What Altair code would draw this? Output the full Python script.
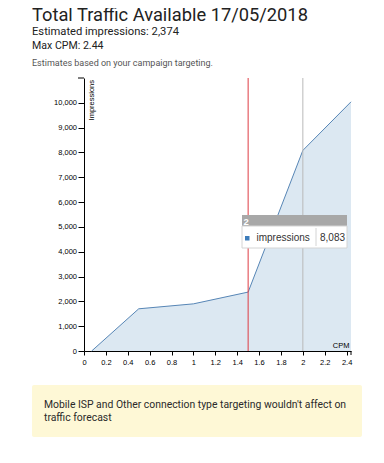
import altair as alt
import pandas as pd

# ---- data ----
cpm = [0.07, 0.5, 1.0, 1.5, 2.0, 2.44]
impressions = [0, 1700, 1900, 2374, 8083, 10040]
x_ticks = [0, 0.2, 0.4, 0.6, 0.8, 1, 1.2, 1.4, 1.6, 1.8, 2, 2.2, 2.4]
y_ticks = [0, 1000, 2000, 3000, 4000, 5000, 6000, 7000, 8000, 9000, 10000]
x_domain = [0, 2.44]
y_domain = [0, 11000]
selected_cpm = [1.5]
hover_cpm = [2.0]
hover_label = ["2"]
hover_series = ["impressions"]
hover_value = ["8,083"]
title_text = ["Total Traffic Available 17/05/2018"]
est_text = ["Estimated impressions: 2,374"]
max_text = ["Max CPM: 2.44"]
note_text = ["Estimates based on your campaign targeting."]
footer_text = ["Mobile ISP and Other connection type targeting wouldn't affect on\ntraffic forecast"]
y_title = ["Impressions"]
x_title = ["CPM"]

W, H = 267, 273
LBL = "Liberation Sans"
HDR = "Roboto"

df = pd.DataFrame({"cpm": cpm, "impressions": impressions})

xs = alt.Scale(domain=x_domain, nice=False, zero=False)
ys = alt.Scale(domain=y_domain, nice=False)

x_axis = alt.Axis(
    values=x_ticks, labelExpr="format(datum.value, '~g')", title=None, grid=False, tickSize=4,
    labelPadding=3, labelFontSize=7.5, labelFont=LBL, labelColor="#000",
    domainColor="#000", tickColor="#000", labelFlush=False, labelOverlap=False)
y_axis = alt.Axis(
    values=y_ticks, labelExpr="format(datum.value, ',')", title=None, grid=False, tickSize=6,
    labelPadding=1.5, labelFontSize=7.5, labelFont=LBL, labelColor="#000",
    domainColor="#000", tickColor="#000", labelOverlap=False)

x_enc = alt.X("cpm:Q", scale=xs, axis=x_axis)
y_enc = alt.Y("impressions:Q", scale=ys, axis=y_axis)

area = alt.Chart(df).mark_area(
    color="#cddeed", line=alt.OverlayMarkDef(color="#5786b6", strokeWidth=1)
).encode(x=x_enc, y=y_enc)

red_rule = alt.Chart(pd.DataFrame({"cpm": selected_cpm})).mark_rule(
    color="#de3c44", strokeWidth=1).encode(x=alt.X("cpm:Q", scale=xs, axis=x_axis), y=alt.value(0), y2=alt.value(H))
gray_rule = alt.Chart(pd.DataFrame({"cpm": hover_cpm})).mark_rule(
    color="#b9b9b9", strokeWidth=1).encode(x=alt.X("cpm:Q", scale=xs, axis=x_axis), y=alt.value(0), y2=alt.value(H))

one = pd.DataFrame({"k": [0]})

def txt(values, x, y, size, color="#000", font=LBL, weight="normal", align="left", angle=0, **kw):
    return alt.Chart(pd.DataFrame({"t": values})).mark_text(
        align=align, baseline="alphabetic", fontSize=size, font=font, color=color,
        fontWeight=weight, angle=angle, **kw).encode(x=alt.value(x), y=alt.value(y), text="t:N")

def rect(x, x2, y, y2, fill, stroke=None, **kw):
    props = dict(fill=fill)
    if stroke:
        props["stroke"] = stroke
        props["strokeWidth"] = 1
    props.update(kw)
    return alt.Chart(one).mark_rect(**props).encode(
        x=alt.value(x), x2=alt.value(x2), y=alt.value(y), y2=alt.value(y2))

top_tick = alt.Chart(one).mark_rule(color="#000").encode(x=alt.value(-6), x2=alt.value(0), y=alt.value(0))
end_tick = alt.Chart(one).mark_rule(color="#000").encode(x=alt.value(W), y=alt.value(H), y2=alt.value(H + 4))

y_lab = txt(y_title, 10.3, 2, 7.5, align="right", angle=270)
x_lab = txt(x_title, 265.5, 269.5, 7.5, align="right")

# tooltip
tt_head = rect(158, 263, 137, 148, "#a8a8a8")
tt_body = rect(158, 263, 148, 170, "#ffffff", stroke="#d4d4d4")
tt_sq = rect(161, 165.5, 158, 162.5, "#3d7cba")
tt_sep = alt.Chart(one).mark_rule(color="#d4d4d4").encode(x=alt.value(232), y=alt.value(150), y2=alt.value(168))
tt_h_txt = txt(hover_label, 159.5, 147, 9.5, color="#fff", weight="bold")
tt_s_txt = txt(hover_series, 172.5, 162.5, 10, color="#333")
tt_v_txt = txt(hover_value, 236, 162.5, 10, color="#333")

# header
h_title = txt(title_text, -52, -57, 18.3, color="#222", font=HDR)
h_est = txt(est_text, -52, -43.5, 11.2, color="#222", font=HDR)
h_max = txt(max_text, -52, -29, 10.6, color="#222", font=HDR)
h_note = txt(note_text, -52, -12.3, 9, color="#555", font=HDR)

# footer
f_box = rect(-52, 278, 307, 359, "#fef8d6", cornerRadius=2)
f_txt = txt(footer_text, -40, 329.5, 10.4, color="#2a2a2a", font=HDR, lineBreak="\n", lineHeight=13.3)

chart = alt.layer(
    area, red_rule, gray_rule, top_tick, end_tick, y_lab, x_lab,
    tt_head, tt_body, tt_sq, tt_sep, tt_h_txt, tt_s_txt, tt_v_txt,
    h_title, h_est, h_max, h_note, f_box, f_txt
).properties(
    width=W, height=H,
    autosize=alt.AutoSizeParams(type="none"),
    padding={"left": 76, "top": 70, "right": 25, "bottom": 95},
    background="#ffffff",
).configure_view(strokeWidth=0)

chart.save("out.html", embed_options={"renderer": "svg", "actions": False})
